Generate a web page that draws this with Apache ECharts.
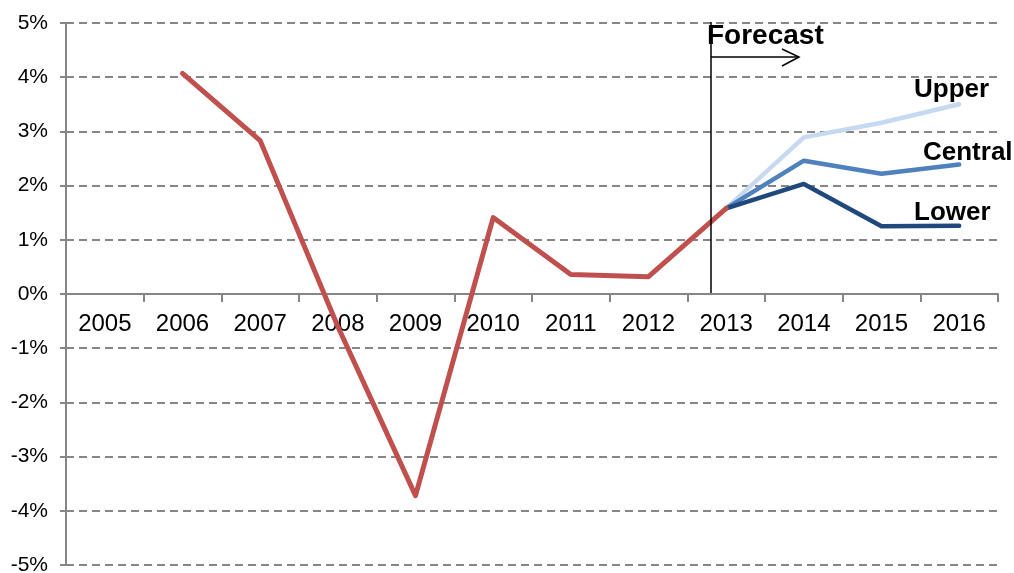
<!DOCTYPE html>
<html>
<head>
<meta charset="utf-8">
<script src="https://cdn.jsdelivr.net/npm/echarts@6/dist/echarts.min.js"></script>
<style>
  html, body { margin: 0; padding: 0; background: #fff; }
  #chart { width: 1014px; height: 573px; }
</style>
</head>
<body>
<div id="chart"></div>
<script>
var years = ['2005', '2006', '2007', '2008', '2009', '2010', '2011', '2012', '2013', '2014', '2015', '2016']
// outturn growth, per cent
var actual = [null, 4.07, 2.83, -0.6, -3.72, 1.41, 0.36, 0.32, 1.58, null, null, null]
// forecast scenarios start from the 2013 value
var upper = [null, null, null, null, null, null, null, null, 1.58, 2.89, 3.16, 3.50]
var central = [null, null, null, null, null, null, null, null, 1.58, 2.46, 2.22, 2.39]
var lower = [null, null, null, null, null, null, null, null, 1.58, 2.03, 1.25, 1.26]
var yTicks = [-5, -4, -3, -2, -1, 0, 1, 2, 3, 4, 5]

var font = 'Liberation Sans, Arial, sans-serif'
var gray = '#868686'

var chart = echarts.init(document.getElementById('chart'))

function lineSeries(name, data, color, width) {
  return {
    name: name,
    type: 'line',
    data: data,
    symbol: 'none',
    connectNulls: false,
    lineStyle: { color: color, width: width, cap: 'round', join: 'round' },
    z: 3
  }
}

chart.setOption({
  animation: false,
  grid: { left: 66, right: 16, top: 23, bottom: 8, outerBoundsMode: 'none', containLabel: false },
  xAxis: {
    type: 'category',
    data: years,
    boundaryGap: true,
    // sit the axis on the 0% line (grid is 542px tall, half way up)
    axisLine: { onZero: false, lineStyle: { color: gray, width: 2 } },
    offset: -271,
    axisTick: { show: true, interval: 0, length: 8, lineStyle: { color: gray, width: 2 } },
    axisLabel: { interval: 0, margin: 18, fontSize: 24, color: '#000', fontFamily: font },
    splitLine: { show: false }
  },
  yAxis: {
    type: 'value',
    min: yTicks[0],
    max: yTicks[yTicks.length - 1],
    interval: 1,
    axisLine: { show: true, lineStyle: { color: gray, width: 2 } },
    axisTick: { show: true, length: 6, lineStyle: { color: gray, width: 2 } },
    axisLabel: {
      margin: 18,
      fontSize: 21,
      color: '#000',
      fontFamily: font,
      formatter: function(v) { return v + '%' }
    },
    splitLine: { show: true, lineStyle: { color: gray, width: 2, type: [8, 5] } }
  },
  series: [
    lineSeries('Upper', upper, '#C6D9F1', 4.5),
    lineSeries('Central', central, '#4F81BD', 4.5),
    lineSeries('Lower', lower, '#1F497D', 4.5),
    lineSeries('Actual', actual, '#C0504D', 5)
  ],
  graphic: [
    { type: 'line', shape: { x1: 711, y1: 22, x2: 711, y2: 293 }, style: { stroke: '#000', lineWidth: 1.5 }, z: 10 },
    { type: 'line', shape: { x1: 711, y1: 57, x2: 799, y2: 57 }, style: { stroke: '#000', lineWidth: 1.5 }, z: 10 },
    { type: 'polyline', shape: { points: [[782, 49], [799, 57], [782, 66]] }, style: { stroke: '#000', fill: null, lineWidth: 1.5 }, z: 10 },
    { type: 'text', left: 707, top: 22, style: { text: 'Forecast', font: 'bold 28px ' + font, fill: '#000' }, z: 10 },
    { type: 'text', left: 914, top: 77, style: { text: 'Upper', font: 'bold 26px ' + font, fill: '#000' }, z: 10 },
    { type: 'text', left: 923, top: 140, style: { text: 'Central', font: 'bold 26px ' + font, fill: '#000' }, z: 10 },
    { type: 'text', left: 914, top: 200, style: { text: 'Lower', font: 'bold 26px ' + font, fill: '#000' }, z: 10 }
  ]
})
</script>
</body>
</html>
